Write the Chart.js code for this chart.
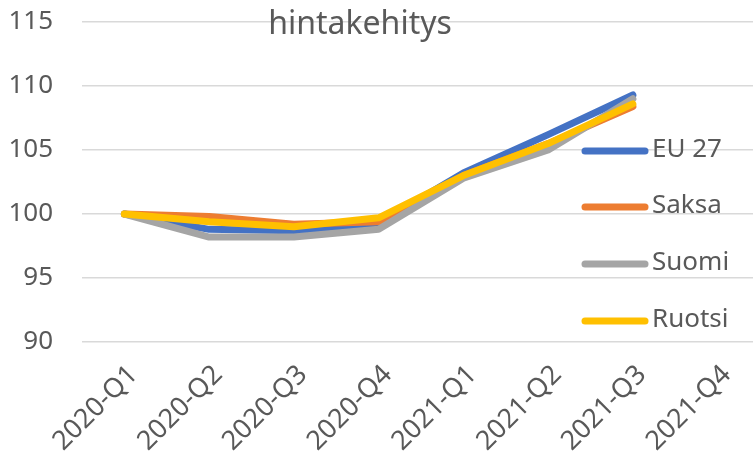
<!DOCTYPE html>
<html>
<head>
<meta charset="utf-8">
<script src="https://cdn.jsdelivr.net/npm/chart.js@4/dist/chart.umd.min.js"></script>
<style>
  html, body { margin: 0; padding: 0; background: #fff; overflow: hidden; }
  #wrap { width: 753px; height: 461px; overflow: hidden; position: relative; }
  canvas { display: block; }
</style>
</head>
<body>
<div id="wrap"><canvas id="c" width="762" height="461"></canvas></div>
<script>
const categories = ['2020-Q1','2020-Q2','2020-Q3','2020-Q4','2021-Q1','2021-Q2','2021-Q3','2021-Q4'];
const eu27   = [100, 98.8, 98.7, 99.3, 103.2, 106.2, 109.3, null];
const saksa  = [100, 99.8, 99.2, 99.4, 103.0, 105.5, 108.4, null];
const suomi  = [100, 98.2, 98.2, 98.8, 102.8, 105.0, 109.0, null];
const ruotsi = [100, 99.4, 99.0, 99.7, 103.0, 105.5, 108.6, null];
const seriesNames = ['EU 27', 'Saksa', 'Suomi', 'Ruotsi'];
const yTicks = [90, 95, 100, 105, 110, 115];
const titleText = 'hintakehitys';

const colors = ['#4472C4', '#ED7D31', '#A5A5A5', '#FFC000'];
const FONT = '"Noto Sans", "DejaVu Sans", sans-serif';
const TEXT = '#595959';

function ds(label, data, i) {
  return {
    label, data,
    borderColor: colors[i], backgroundColor: colors[i],
    borderWidth: 7, pointRadius: 0, tension: 0,
    borderCapStyle: 'round', borderJoinStyle: 'round',
    spanGaps: false, order: 3 - i
  };
}

const overlay = {
  id: 'overlay',
  afterDraw(chart) {
    const ctx = chart.ctx;
    ctx.save();
    // title
    ctx.fillStyle = TEXT;
    ctx.font = '32px ' + FONT;
    ctx.textAlign = 'center';
    ctx.textBaseline = 'alphabetic';
    ctx.fillText(titleText, 360, 34);
    // legend
    const ys = [151, 207, 264, 321];
    ctx.font = '26px ' + FONT;
    ctx.textAlign = 'left';
    ctx.textBaseline = 'middle';
    chart.data.datasets.forEach((d, i) => {
      ctx.strokeStyle = d.borderColor;
      ctx.lineWidth = 7;
      ctx.lineCap = 'round';
      ctx.beginPath();
      ctx.moveTo(585, ys[i]);
      ctx.lineTo(645, ys[i]);
      ctx.stroke();
      ctx.fillStyle = TEXT;
      ctx.fillText(d.label, 652, ys[i] - 1);
    });
    ctx.restore();
  }
};

new Chart(document.getElementById('c'), {
  type: 'line',
  data: {
    labels: categories,
    datasets: [ds(seriesNames[0], eu27, 0), ds(seriesNames[1], saksa, 1), ds(seriesNames[2], suomi, 2), ds(seriesNames[3], ruotsi, 3)]
  },
  options: {
    responsive: false,
    animation: false,
    layout: { padding: { top: 22, right: 2, left: 10, bottom: 0 } },
    plugins: { legend: { display: false }, title: { display: false }, tooltip: { enabled: false } },
    scales: {
      x: {
        type: 'category',
        offset: true,
        grid: { display: false, drawTicks: false },
        border: { display: false },
        ticks: { color: TEXT, font: { family: FONT, size: 27 }, maxRotation: 45, minRotation: 45, padding: 17, labelOffset: 9, autoSkip: false },
        afterFit(scale) { scale.height = 119; scale.paddingLeft = 0; scale.paddingRight = 0; scale.paddingTop = 0; scale.paddingBottom = 0; }
      },
      y: {
        min: 90, max: 115,
        afterBuildTicks(scale) { scale.ticks = yTicks.map(v => ({ value: v })); },
        grid: { color: '#D9D9D9', lineWidth: 1.5, drawTicks: false },
        border: { display: false },
        ticks: { color: TEXT, font: { family: FONT, size: 26 }, padding: 29 },
        afterFit(scale) { scale.width = 72; scale.paddingTop = 0; scale.paddingBottom = 0; scale.paddingLeft = 0; scale.paddingRight = 0; }
      }
    }
  },
  plugins: [overlay]
});
</script>
</body>
</html>
